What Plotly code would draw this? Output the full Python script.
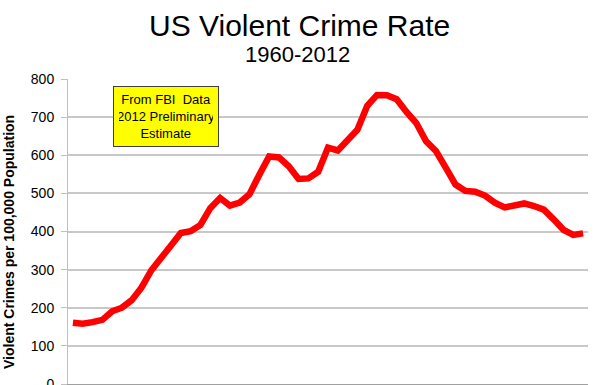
import plotly.graph_objects as go

years = list(range(1960, 2013))
rate = [160.9, 158.1, 162.3, 168.2, 190.6, 200.2, 220.0, 253.2, 298.4, 328.7,
        363.5, 396.0, 401.0, 417.4, 461.1, 487.8, 467.8, 475.9, 497.8, 548.9,
        596.6, 594.3, 571.1, 537.7, 539.2, 556.6, 620.1, 612.5, 640.6, 666.9,
        729.6, 758.2, 757.7, 747.1, 713.6, 684.5, 636.6, 611.0, 567.6, 523.0,
        506.5, 504.5, 494.4, 475.8, 463.2, 469.0, 473.6, 466.9, 457.5, 431.9,
        404.5, 391.0, 395.0]
y_ticks = [0, 100, 200, 300, 400, 500, 600, 700, 800]

title_text = "US Violent Crime Rate"
subtitle_text = "1960-2012"
y_title = "Violent Crimes per 100,000 Population"
note_text = "From FBI  Data<br>2012 Preliminary<br>Estimate"

fig = go.Figure()
fig.add_trace(go.Scatter(
    x=years, y=rate, mode="lines",
    line=dict(color="#FF0000", width=6.5),
    hoverinfo="x+y", showlegend=False,
))

font_main = "Liberation Sans, Arial, sans-serif"

fig.update_layout(
    width=595, height=385,
    margin=dict(l=68, r=7, t=79, b=1, autoexpand=False),
    paper_bgcolor="white", plot_bgcolor="white",
    font=dict(family=font_main, color="#000000"),
    xaxis=dict(
        range=[1959.5, 2012.5],
        tickvals=[y - 0.5 for y in years] + [2012.5],
        showticklabels=False,
        ticks="outside", ticklen=5, tickcolor="#A0A0A0", tickwidth=1,
        showgrid=False, showline=True, linecolor="#A0A0A0", linewidth=1,
        zeroline=False, fixedrange=True,
    ),
    yaxis=dict(
        range=[0, 800], tickvals=y_ticks,
        ticks="outside", ticklen=6, tickcolor="#C0C0C0", tickwidth=1,
        ticklabelstandoff=4, ticklabeloverflow="allow",
        tickfont=dict(size=14, family=font_main, color="#000000"),
        showgrid=True, gridcolor="#C8C8C8", gridwidth=1.5,
        showline=True, linecolor="#C0C0C0", linewidth=1,
        zeroline=False, automargin=False,
    ),
    annotations=[
        dict(text=title_text, xref="paper", yref="paper", x=0.445, y=1.0,
             xanchor="center", yanchor="bottom", yshift=35, showarrow=False,
             font=dict(size=30, family=font_main, color="#000000")),
        dict(text=subtitle_text, xref="paper", yref="paper", x=0.441, y=1.0,
             xanchor="center", yanchor="bottom", yshift=10, showarrow=False,
             font=dict(size=22, family=font_main, color="#000000")),
        dict(text="<b>" + y_title + "</b>", xref="paper", yref="paper",
             x=0, y=(384 - 242) / 305, xshift=-59, textangle=-90,
             xanchor="center", yanchor="middle", showarrow=False,
             font=dict(size=14, family=font_main, color="#000000")),
        dict(text=note_text, xref="paper", yref="paper",
             x=(166 - 68) / 520, y=(384 - 116) / 305,
             xanchor="center", yanchor="middle", showarrow=False,
             align="center", bgcolor="#FFFF00", bordercolor="#404040",
             borderwidth=1, borderpad=5, width=94,
             font=dict(size=13, family=font_main, color="#000000")),
    ],
)

fig.write_html("out.html", config={"displayModeBar": False},
               post_script="document.body.style.margin='0';")
